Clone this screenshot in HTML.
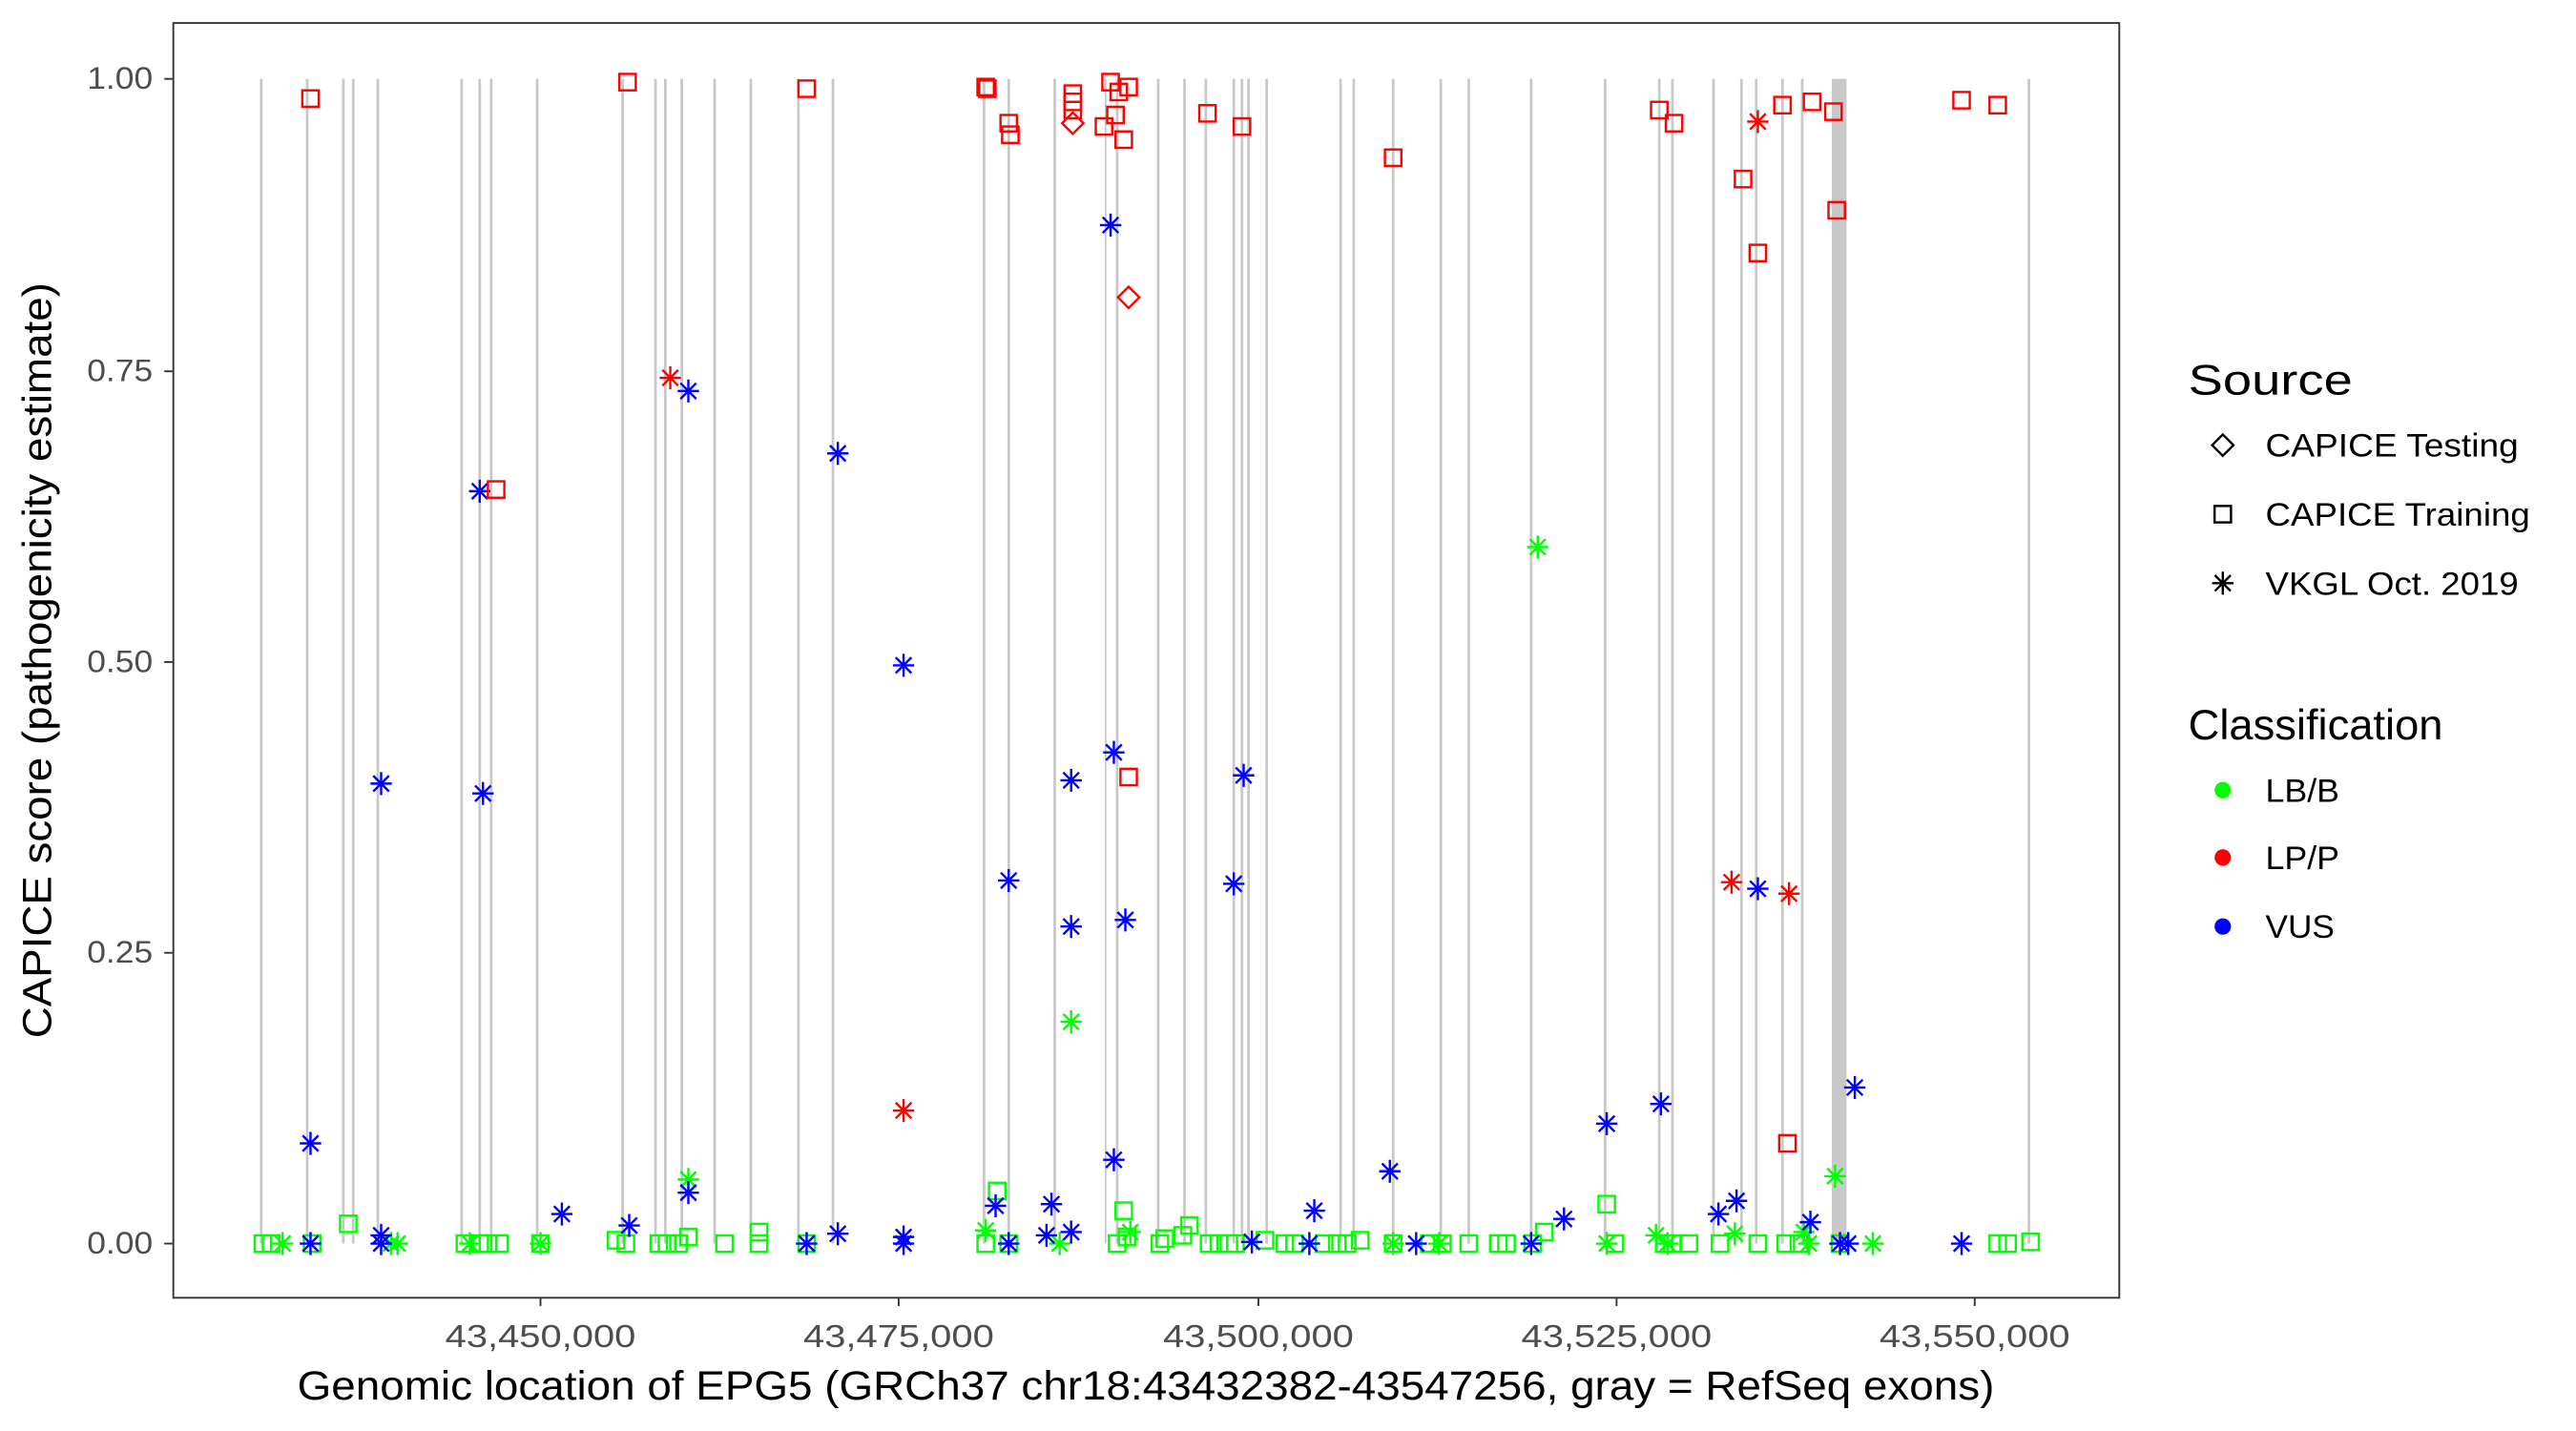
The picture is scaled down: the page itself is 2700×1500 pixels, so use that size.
<!DOCTYPE html>
<html><head><meta charset="utf-8"><style>
html,body{margin:0;padding:0;background:#fff;}
svg{display:block;}
text{font-family:"Liberation Sans",Arial,sans-serif;}
</style></head><body>
<svg width="2700" height="1500" viewBox="0 0 1568 871.1" preserveAspectRatio="none" xmlns="http://www.w3.org/2000/svg">
<defs>
<g id="sq"><rect x="-5" y="-5" width="10" height="10" fill="none" stroke="currentColor" stroke-width="1.4"/></g>
<g id="di"><path d="M0,-6.5 L6.5,0 L0,6.5 L-6.5,0 Z" fill="none" stroke="currentColor" stroke-width="1.4"/></g>
<g id="st" stroke="currentColor" stroke-width="1.4"><line x1="0" y1="-7" x2="0" y2="7"/><line x1="-6.5" y1="0" x2="6.5" y2="0"/><line x1="-4.8" y1="-4.8" x2="4.8" y2="4.8"/><line x1="-4.8" y1="4.8" x2="4.8" y2="-4.8"/></g>
</defs>
<rect x="0" y="0" width="1568" height="871.1" fill="#fff"/>
<g stroke="#c8c8c8" stroke-width="1.6">
<line x1="159" y1="48" x2="159" y2="757"/><line x1="187" y1="48" x2="187" y2="757"/><line x1="209" y1="48" x2="209" y2="757"/><line x1="215" y1="48" x2="215" y2="757"/><line x1="230" y1="48" x2="230" y2="757"/><line x1="281" y1="48" x2="281" y2="757"/><line x1="292" y1="48" x2="292" y2="757"/><line x1="299" y1="48" x2="299" y2="757"/><line x1="327" y1="48" x2="327" y2="757"/><line x1="379" y1="48" x2="379" y2="757"/><line x1="399" y1="48" x2="399" y2="757"/><line x1="405" y1="48" x2="405" y2="757"/><line x1="415" y1="48" x2="415" y2="757"/><line x1="435" y1="48" x2="435" y2="757"/><line x1="457" y1="48" x2="457" y2="757"/><line x1="486" y1="48" x2="486" y2="757"/><line x1="507" y1="48" x2="507" y2="757"/>
<line x1="599" y1="48" x2="599" y2="757"/><line x1="614" y1="48" x2="614" y2="757"/><line x1="642" y1="48" x2="642" y2="757"/><line x1="673" y1="48" x2="673" y2="757" stroke-width="1"/><line x1="680" y1="48" x2="680" y2="757"/><line x1="705" y1="48" x2="705" y2="757"/><line x1="721" y1="48" x2="721" y2="757"/><line x1="734" y1="48" x2="734" y2="757"/><line x1="751" y1="48" x2="751" y2="757"/><line x1="756" y1="48" x2="756" y2="757"/><line x1="760" y1="48" x2="760" y2="757"/><line x1="771" y1="48" x2="771" y2="757"/><line x1="816" y1="48" x2="816" y2="757"/><line x1="824" y1="48" x2="824" y2="757"/><line x1="848" y1="48" x2="848" y2="757"/><line x1="877" y1="48" x2="877" y2="757"/><line x1="894" y1="48" x2="894" y2="757"/>
<line x1="932" y1="48" x2="932" y2="757"/><line x1="977" y1="48" x2="977" y2="757"/><line x1="1010" y1="48" x2="1010" y2="757"/><line x1="1018" y1="48" x2="1018" y2="757"/><line x1="1043" y1="48" x2="1043" y2="757"/><line x1="1060" y1="48" x2="1060" y2="757"/><line x1="1069" y1="48" x2="1069" y2="757"/><line x1="1085" y1="48" x2="1085" y2="757"/><line x1="1097" y1="48" x2="1097" y2="757"/><line x1="1235" y1="48" x2="1235" y2="757"/>
</g>
<rect x="1115" y="48" width="9" height="709" fill="#c8c8c8"/>
<g style="color:#00ff00">
<use href="#sq" x="160" y="757"/><use href="#sq" x="165" y="757"/><use href="#st" x="172" y="757"/><use href="#sq" x="190" y="757"/><use href="#sq" x="212" y="745"/><use href="#st" x="238" y="757"/><use href="#st" x="242" y="757"/><use href="#sq" x="283" y="757"/><use href="#st" x="286" y="757"/><use href="#sq" x="292" y="757"/><use href="#sq" x="297" y="757"/><use href="#sq" x="304" y="757"/><use href="#st" x="329" y="757"/><use href="#sq" x="329" y="757"/>
<use href="#sq" x="375" y="755"/><use href="#sq" x="381" y="757"/><use href="#sq" x="401" y="757"/><use href="#sq" x="406" y="757"/><use href="#sq" x="413" y="757"/><use href="#sq" x="419" y="753"/><use href="#st" x="419" y="718"/><use href="#sq" x="441" y="757"/><use href="#sq" x="462" y="750"/><use href="#sq" x="462" y="757"/><use href="#sq" x="491" y="757"/>
<use href="#st" x="600" y="749"/><use href="#sq" x="600" y="757"/><use href="#sq" x="607" y="725"/><use href="#sq" x="614" y="757"/><use href="#st" x="645" y="757"/><use href="#st" x="652" y="622"/><use href="#sq" x="680" y="757"/><use href="#sq" x="684" y="737"/><use href="#st" x="688" y="750"/><use href="#sq" x="686" y="753"/><use href="#sq" x="706" y="757"/><use href="#sq" x="709" y="754"/><use href="#sq" x="720" y="752"/><use href="#sq" x="724" y="746"/><use href="#sq" x="736" y="757"/><use href="#sq" x="742" y="757"/><use href="#sq" x="748" y="757"/><use href="#sq" x="752" y="757"/><use href="#sq" x="770" y="755"/><use href="#sq" x="782" y="757"/><use href="#sq" x="788" y="757"/><use href="#sq" x="806" y="757"/><use href="#sq" x="814" y="757"/><use href="#sq" x="820" y="757"/><use href="#sq" x="828" y="755"/><use href="#sq" x="848" y="757"/><use href="#st" x="848" y="757"/><use href="#sq" x="870" y="757"/><use href="#st" x="876" y="757"/><use href="#sq" x="878" y="757"/><use href="#sq" x="894" y="757"/><use href="#sq" x="912" y="757"/><use href="#sq" x="917" y="757"/><use href="#sq" x="933" y="757"/><use href="#sq" x="940" y="750"/><use href="#st" x="936" y="333"/>
<use href="#sq" x="978" y="733"/><use href="#st" x="978" y="757"/><use href="#sq" x="983" y="757"/><use href="#st" x="1008" y="752"/><use href="#sq" x="1013" y="757"/><use href="#st" x="1015" y="757"/><use href="#sq" x="1018" y="757"/><use href="#sq" x="1028" y="757"/><use href="#sq" x="1047" y="757"/><use href="#st" x="1056" y="751"/><use href="#sq" x="1070" y="757"/><use href="#sq" x="1087" y="757"/><use href="#sq" x="1095" y="757"/><use href="#st" x="1098" y="750"/><use href="#st" x="1101" y="757"/><use href="#st" x="1117" y="716"/><use href="#sq" x="1120" y="757"/><use href="#st" x="1140" y="757"/><use href="#sq" x="1216" y="757"/><use href="#sq" x="1222" y="757"/><use href="#sq" x="1236" y="756"/>
</g>
<g style="color:#0000ff">
<use href="#st" x="676" y="137"/><use href="#st" x="189" y="696"/><use href="#st" x="232" y="477"/><use href="#st" x="292" y="299"/><use href="#st" x="294" y="483"/><use href="#st" x="419" y="238"/><use href="#st" x="510" y="276"/><use href="#st" x="550" y="405"/><use href="#st" x="614" y="536"/><use href="#st" x="652" y="475"/><use href="#st" x="652" y="564"/><use href="#st" x="678" y="458"/><use href="#st" x="685" y="560"/><use href="#st" x="757" y="472"/><use href="#st" x="751" y="538"/><use href="#st" x="678" y="706"/><use href="#st" x="846" y="713"/><use href="#st" x="978" y="684"/><use href="#st" x="1011" y="672"/><use href="#st" x="1070" y="541"/><use href="#st" x="1129" y="662"/><use href="#st" x="342" y="739"/><use href="#st" x="383" y="746"/><use href="#st" x="419" y="726"/><use href="#st" x="606" y="734"/><use href="#st" x="640" y="733"/><use href="#st" x="637" y="752"/><use href="#st" x="652" y="750"/><use href="#st" x="800" y="737"/><use href="#st" x="952" y="742"/><use href="#st" x="1046" y="739"/><use href="#st" x="1057" y="731"/><use href="#st" x="1102" y="744"/><use href="#st" x="189" y="757"/><use href="#st" x="232" y="752"/><use href="#st" x="232" y="757"/><use href="#st" x="491" y="757"/><use href="#st" x="510" y="751"/><use href="#st" x="550" y="753"/><use href="#st" x="550" y="757"/><use href="#st" x="614" y="757"/><use href="#st" x="762" y="756"/><use href="#st" x="797" y="757"/><use href="#st" x="862" y="757"/><use href="#st" x="932" y="757"/><use href="#st" x="1120" y="757"/><use href="#st" x="1125" y="757"/><use href="#st" x="1194" y="757"/>
</g>
<g style="color:#ff0000">
<use href="#sq" x="189" y="60"/><use href="#sq" x="382" y="50"/><use href="#sq" x="302" y="298"/><use href="#sq" x="491" y="54"/><use href="#sq" x="600" y="53"/><use href="#sq" x="601" y="54"/><use href="#sq" x="614" y="75"/><use href="#sq" x="615" y="82"/><use href="#sq" x="653" y="57"/><use href="#sq" x="653" y="62"/><use href="#sq" x="653" y="67"/><use href="#sq" x="676" y="50"/><use href="#sq" x="681" y="56"/><use href="#sq" x="687" y="53"/><use href="#sq" x="672" y="77"/><use href="#sq" x="679" y="70"/><use href="#sq" x="684" y="85"/><use href="#sq" x="735" y="69"/><use href="#sq" x="756" y="77"/><use href="#sq" x="848" y="96"/><use href="#sq" x="1010" y="67"/><use href="#sq" x="1019" y="75"/><use href="#sq" x="1061" y="109"/><use href="#sq" x="1070" y="154"/><use href="#sq" x="1085" y="64"/><use href="#sq" x="1103" y="62"/><use href="#sq" x="1116" y="68"/><use href="#sq" x="1118" y="128"/><use href="#sq" x="1194" y="61"/><use href="#sq" x="1216" y="64"/><use href="#sq" x="687" y="473"/><use href="#sq" x="1088" y="696"/>
<use href="#di" x="653" y="75"/><use href="#di" x="687" y="181"/>
<use href="#st" x="408" y="230"/><use href="#st" x="550" y="676"/><use href="#st" x="1070" y="74"/><use href="#st" x="1054" y="537"/><use href="#st" x="1089" y="544"/>
</g>
<rect x="105.5" y="14" width="1184.5" height="776" fill="none" stroke="#333" stroke-width="1.1"/>
<g stroke="#333" stroke-width="1.1">
<line x1="100" y1="48" x2="105" y2="48"/><line x1="100" y1="226" x2="105" y2="226"/><line x1="100" y1="403" x2="105" y2="403"/><line x1="100" y1="580" x2="105" y2="580"/><line x1="100" y1="757" x2="105" y2="757"/>
<line x1="329" y1="790" x2="329" y2="795"/><line x1="547" y1="790" x2="547" y2="795"/><line x1="766" y1="790" x2="766" y2="795"/><line x1="984" y1="790" x2="984" y2="795"/><line x1="1202" y1="790" x2="1202" y2="795"/>
</g>
<g fill="#4d4d4d" font-size="19" text-anchor="end">
<text x="93" y="54" textLength="40" lengthAdjust="spacingAndGlyphs">1.00</text><text x="93" y="232" textLength="40" lengthAdjust="spacingAndGlyphs">0.75</text><text x="93" y="409" textLength="40" lengthAdjust="spacingAndGlyphs">0.50</text><text x="93" y="586" textLength="40" lengthAdjust="spacingAndGlyphs">0.25</text><text x="93" y="763" textLength="40" lengthAdjust="spacingAndGlyphs">0.00</text>
</g>
<g fill="#4d4d4d" font-size="19.5">
<text x="271" y="820" textLength="116" lengthAdjust="spacingAndGlyphs">43,450,000</text><text x="489" y="820" textLength="116" lengthAdjust="spacingAndGlyphs">43,475,000</text><text x="708" y="820" textLength="116" lengthAdjust="spacingAndGlyphs">43,500,000</text><text x="926" y="820" textLength="116" lengthAdjust="spacingAndGlyphs">43,525,000</text><text x="1144" y="820" textLength="116" lengthAdjust="spacingAndGlyphs">43,550,000</text>
</g>
<text x="181" y="852" font-size="25" fill="#000" textLength="1033" lengthAdjust="spacingAndGlyphs">Genomic location of EPG5 (GRCh37 chr18:43432382-43547256, gray = RefSeq exons)</text>
<text transform="translate(31,632) rotate(-90)" font-size="25" fill="#000" textLength="460" lengthAdjust="spacingAndGlyphs">CAPICE score (pathogenicity estimate)</text>
<text x="1332" y="240" font-size="26" fill="#000" textLength="100" lengthAdjust="spacingAndGlyphs">Source</text>
<g style="color:#000"><use href="#di" x="1353" y="271"/><use href="#sq" x="1353" y="313"/><use href="#st" x="1353" y="355"/></g>
<g font-size="20" fill="#000">
<text x="1379" y="278" textLength="154" lengthAdjust="spacingAndGlyphs">CAPICE Testing</text><text x="1379" y="320" textLength="161" lengthAdjust="spacingAndGlyphs">CAPICE Training</text><text x="1379" y="362" textLength="154" lengthAdjust="spacingAndGlyphs">VKGL Oct. 2019</text>
</g>
<text x="1332" y="450" font-size="26" fill="#000" textLength="155" lengthAdjust="spacingAndGlyphs">Classification</text>
<circle cx="1353" cy="481" r="5" fill="#00ff00"/><circle cx="1353" cy="522" r="5" fill="#ff0000"/><circle cx="1353" cy="564" r="5" fill="#0000ff"/>
<g font-size="20" fill="#000">
<text x="1379" y="488" textLength="45" lengthAdjust="spacingAndGlyphs">LB/B</text><text x="1379" y="529" textLength="45" lengthAdjust="spacingAndGlyphs">LP/P</text><text x="1379" y="571" textLength="42" lengthAdjust="spacingAndGlyphs">VUS</text>
</g>
</svg>
</body></html>
